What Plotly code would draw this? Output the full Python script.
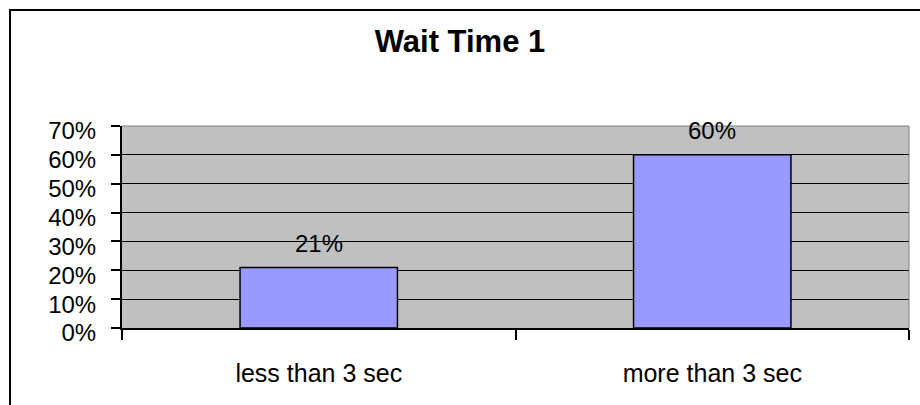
import plotly.graph_objects as go

# Chart data
categories = ["less than 3 sec", "more than 3 sec"]
shares = [0.21, 0.60]
y_ticks = [0.0, 0.1, 0.2, 0.3, 0.4, 0.5, 0.6, 0.7]
title_text = "Wait Time 1"

FONT = "Liberation Sans, Arial, sans-serif"

fig = go.Figure()
fig.add_trace(go.Bar(
    x=categories,
    y=shares,
    width=0.4,
    marker=dict(color="#9999FF", line=dict(color="black", width=1.5)),
    hoverinfo="skip",
))

# value labels above each bar
for cat, val in zip(categories, shares):
    fig.add_annotation(
        x=cat, y=val, xref="x", yref="y",
        text=f"{val:.0%}", showarrow=False,
        yanchor="middle", yshift=24,
        font=dict(family=FONT, size=24, color="black"),
    )

# plot-area border on the top and right edges
fig.add_shape(type="line", xref="paper", yref="paper",
              x0=0, x1=1, y0=1, y1=1, line=dict(color="#808080", width=1), layer="above")
fig.add_shape(type="line", xref="paper", yref="paper",
              x0=1, x1=1, y0=0, y1=1, line=dict(color="#808080", width=1), layer="above")

# outer chart frame
fig.add_shape(type="rect", xref="paper", yref="paper",
              x0=-0.1423, x1=1.06, y0=-0.46, y1=1.574,
              line=dict(color="black", width=2), fillcolor="rgba(0,0,0,0)", layer="above")

fig.update_layout(
    width=920, height=405,
    margin=dict(l=122, r=11, t=126, b=77),
    paper_bgcolor="white",
    plot_bgcolor="#C0C0C0",
    showlegend=False,
    title=dict(
        text=f"<b>{title_text}</b>",
        x=0.5, xref="container", xanchor="center",
        y=1 - 41 / 405, yref="container", yanchor="middle",
        font=dict(family=FONT, size=31, color="black"),
    ),
    font=dict(family=FONT, color="black"),
)

fig.update_xaxes(
    type="category",
    range=[-0.5, 1.5],
    showline=True, linecolor="black", linewidth=2,
    ticks="outside", tickson="boundaries", ticklen=10, tickwidth=2, tickcolor="black",
    tickfont=dict(family=FONT, size=25, color="black"),
    ticklabelstandoff=22,
    showgrid=False,
)

fig.update_yaxes(
    range=[0, 0.7],
    tickvals=y_ticks,
    tickformat=".0%",
    showline=True, linecolor="black", linewidth=2,
    ticks="outside", ticklen=9, tickwidth=2, tickcolor="black",
    tickfont=dict(family=FONT, size=24, color="black"),
    ticklabelstandoff=10,
    ticklabelshift=5,
    showgrid=True, gridcolor="black", gridwidth=1,
    zeroline=False,
)

fig.write_html("out.html")
